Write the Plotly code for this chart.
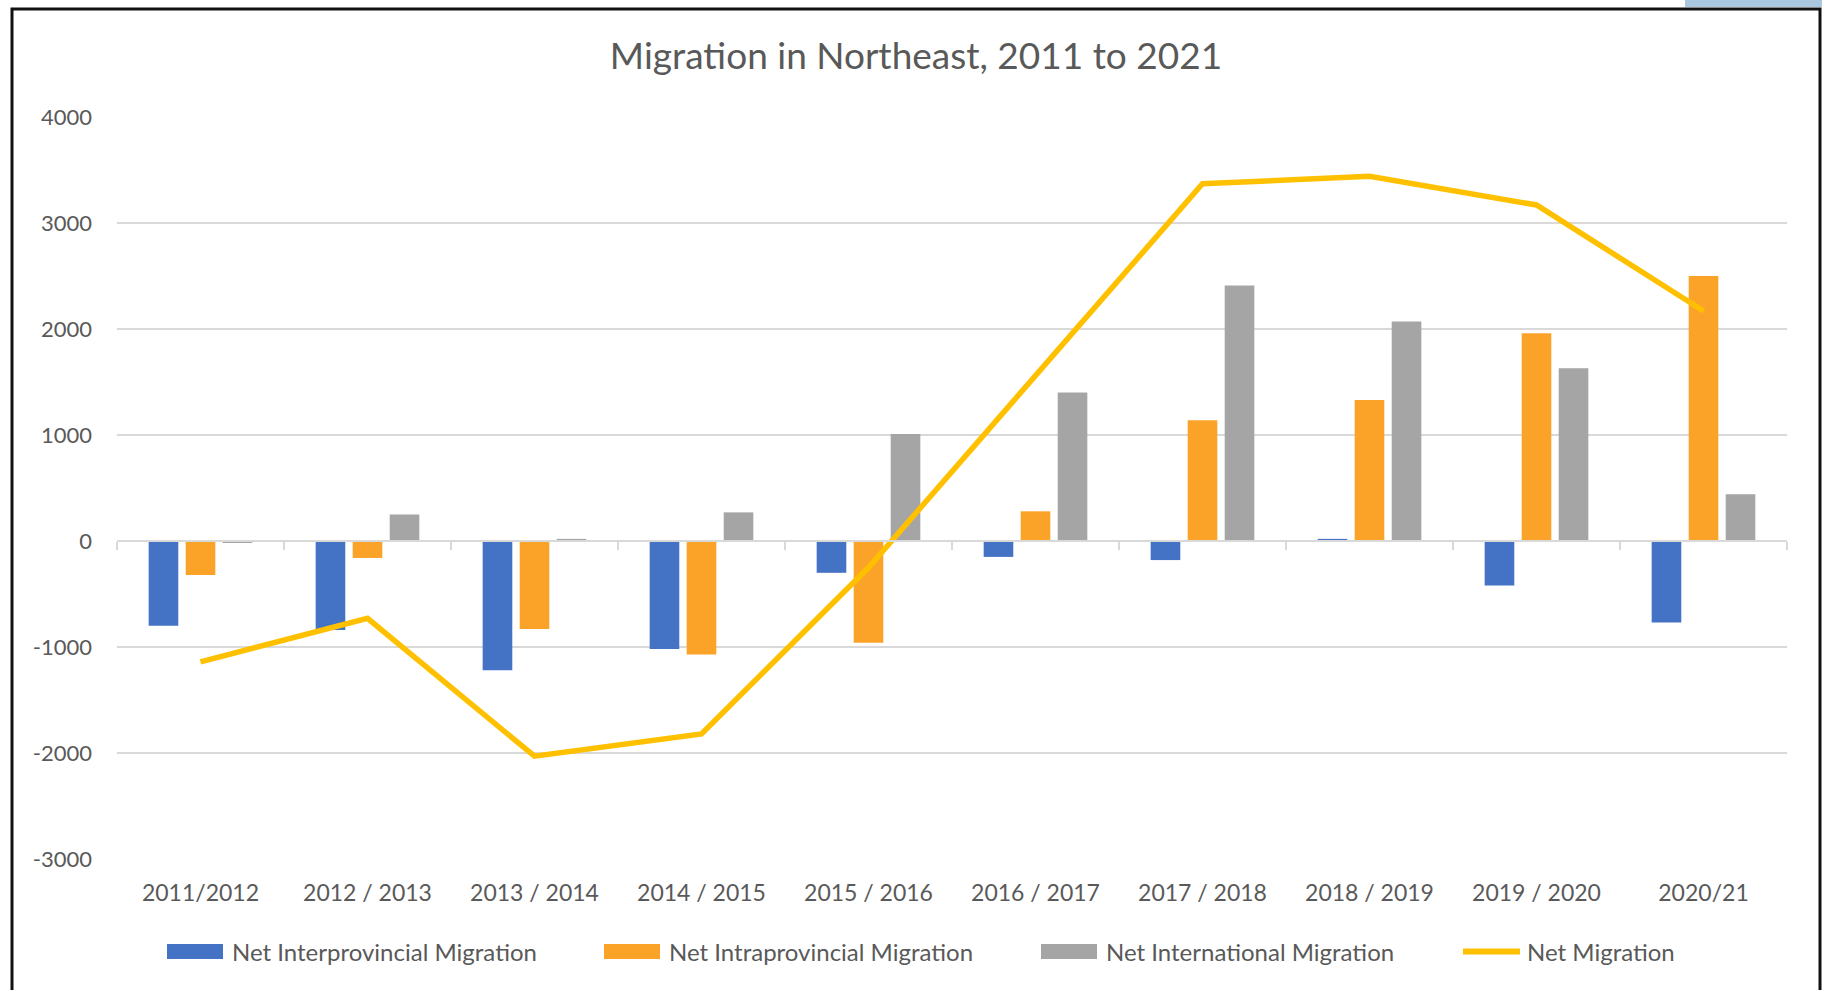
import plotly.graph_objects as go

periods = ["2011/2012", "2012 / 2013", "2013 / 2014", "2014 / 2015", "2015 / 2016",
           "2016 / 2017", "2017 / 2018", "2018 / 2019", "2019 / 2020", "2020/21"]
interprovincial = [-800, -840, -1220, -1020, -300, -150, -180, 20, -420, -770]
intraprovincial = [-320, -160, -830, -1070, -960, 280, 1140, 1330, 1960, 2500]
international = [-15, 250, 20, 270, 1010, 1400, 2410, 2070, 1630, 440]
net_migration = [-1140, -730, -2030, -1820, -250, 1560, 3370, 3440, 3170, 2170]
y_ticks = [-3000, -2000, -1000, 0, 1000, 2000, 3000, 4000]

series_names = ["Net Interprovincial Migration", "Net Intraprovincial Migration",
                "Net International Migration", "Net Migration"]
series_colors = ["#4472C4", "#FBA328", "#A5A5A5", "#FFC000"]

W, H = 1822, 990
L, R, T, B = 117, 35, 117, 131
FONT = "Lato"
TXT = "#595959"
GRID = "#D9D9D9"

fig = go.Figure()
for vals, name, col in zip([interprovincial, intraprovincial, international],
                           series_names[:3], series_colors[:3]):
    fig.add_trace(go.Bar(x=periods, y=vals, name=name, showlegend=False,
                         marker=dict(color=col, line=dict(width=0))))
fig.add_trace(go.Scatter(x=periods, y=net_migration, name=series_names[3], mode="lines",
                         showlegend=False, line=dict(color=series_colors[3], width=5.5)))

ymin, ymax = y_ticks[0], y_ticks[-1]
n = len(periods)
pw = W - L - R
ph = H - T - B


def px_x(v):
    return (v - L) / pw


def px_y(v):
    return (H - B - v) / ph


fig.update_layout(
    width=W, height=H,
    margin=dict(l=L, r=R, t=T, b=B),
    paper_bgcolor="white", plot_bgcolor="white",
    barmode="group", bargap=0.335, bargroupgap=0.2,
    font=dict(family=FONT, color=TXT),
    title=dict(text="Migration in Northeast, 2011 to 2021", x=916 / W, xref="container",
               xanchor="center", y=1 - 56 / H, yref="container", yanchor="middle",
               font=dict(family=FONT, size=37, color=TXT)),
    xaxis=dict(type="category", categoryorder="array", categoryarray=periods,
               range=[-0.5, n - 0.5], showgrid=False, zeroline=False, showline=False,
               ticks="", tickfont=dict(family=FONT, size=23, color=TXT),
               ticklabelstandoff=18),
    xaxis2=dict(overlaying="x", anchor="free", position=(0 - ymin) / (ymax - ymin),
                range=[-0.5, n - 0.5], tickmode="array",
                tickvals=[i - 0.5 for i in range(n + 1)], ticks="outside", ticklen=8,
                tickcolor=GRID, tickwidth=2, showline=True, linecolor=GRID, linewidth=2,
                showticklabels=False, showgrid=False, zeroline=False),
    yaxis=dict(range=[ymin, ymax], tickmode="array", tickvals=y_ticks,
               ticktext=[str(v) for v in y_ticks], showgrid=True, gridcolor=GRID,
               gridwidth=2, zeroline=False, showline=False, ticks="",
               tickfont=dict(family=FONT, size=22, color=TXT), ticklabelstandoff=24),
    showlegend=False,
)

# dummy invisible trace to activate xaxis2
fig.add_trace(go.Scatter(x=[0], y=[None], xaxis="x2", showlegend=False, hoverinfo="skip"))

# custom legend (wide swatches like the original)
legend_x = [167, 604, 1041, 1460]
legend_y = 951.5
sw_w, sw_h = 56, 15
for i, (name, col) in enumerate(zip(series_names, series_colors)):
    x0 = legend_x[i]
    if i < 3:
        fig.add_shape(type="rect", xref="paper", yref="paper",
                      x0=px_x(x0), x1=px_x(x0 + sw_w),
                      y0=px_y(legend_y + sw_h / 2), y1=px_y(legend_y - sw_h / 2),
                      fillcolor=col, line=dict(width=0))
        tx = x0 + sw_w + 7
    else:
        fig.add_shape(type="line", xref="paper", yref="paper",
                      x0=px_x(x0 + 3), x1=px_x(x0 + 60), y0=px_y(legend_y), y1=px_y(legend_y),
                      line=dict(color=col, width=6))
        tx = x0 + 65
    fig.add_annotation(text=name, xref="paper", yref="paper", x=px_x(tx), y=px_y(legend_y),
                       xanchor="left", yanchor="middle", showarrow=False,
                       font=dict(family=FONT, size=24, color=TXT))

# chart frame and corner decoration
fig.add_shape(type="rect", xref="paper", yref="paper",
              x0=px_x(1685), x1=px_x(1822), y0=px_y(7), y1=px_y(0),
              fillcolor="#A9C8E0", line=dict(width=0), layer="below")
fig.add_shape(type="path", xref="paper", yref="paper",
              path=(f"M {px_x(12)} {px_y(H)} L {px_x(12)} {px_y(9)} "
                    f"L {px_x(1820)} {px_y(9)} L {px_x(1820)} {px_y(H)}"),
              line=dict(color="#111111", width=3))

fig.write_html("out.html", config={"displayModeBar": False},
               post_script="document.body.style.margin='0';document.body.style.overflow='hidden';")
